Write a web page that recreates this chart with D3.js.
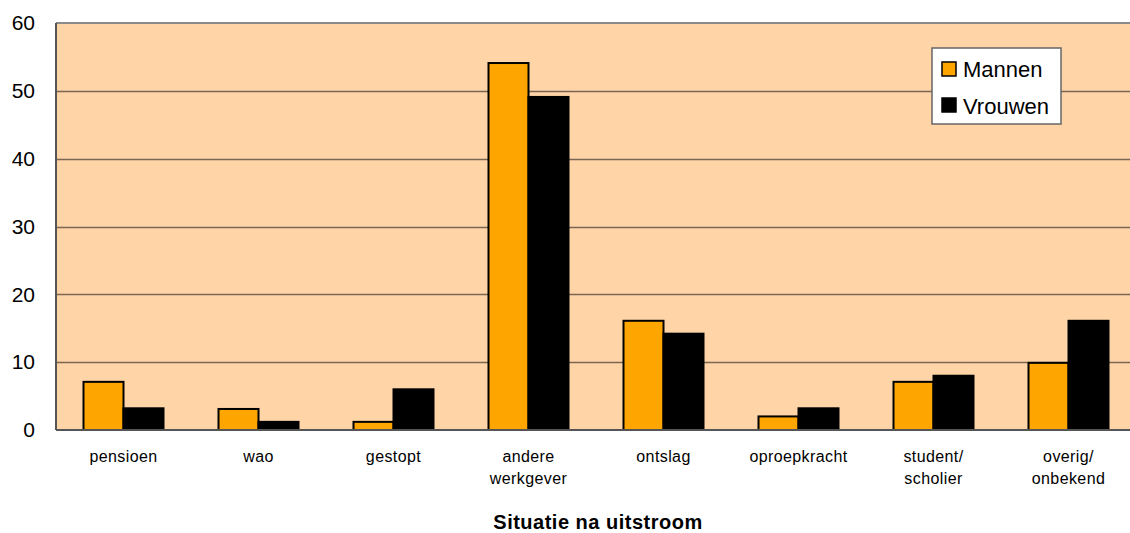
<!DOCTYPE html>
<html><head><meta charset="utf-8">
<script src="https://cdn.jsdelivr.net/npm/d3@7"></script>
<style>body{margin:0;background:#fff}svg{display:block;font-family:"Liberation Sans",Arial,sans-serif}</style>
</head><body>
<svg id="c" width="1130" height="533"></svg>
<script>
const categories = [["pensioen"],["wao"],["gestopt"],["andere","werkgever"],["ontslag"],["oproepkracht"],["student/","scholier"],["overig/","onbekend"]];
const series = ["Mannen","Vrouwen"];
const mannen = [7.1, 3.1, 1.2, 54.1, 16.1, 2.0, 7.1, 9.9];
const vrouwen = [3.2, 1.2, 6.0, 49.1, 14.2, 3.2, 8.0, 16.1];
const yTicks = [0,10,20,30,40,50,60];
const colors = ["#FFA500","#000000"];
const xTitle = "Situatie na uitstroom";

const svg = d3.select("#c");
const L = 56, R = 1136, T = 23, B = 430;
const x = d3.scaleBand().domain(d3.range(categories.length)).range([L, R]).paddingInner(0).paddingOuter(0);
const y = d3.scaleLinear().domain([0,60]).range([B, T]);

svg.append("rect").attr("x",L).attr("y",T).attr("width",R-L).attr("height",B-T).attr("fill","#FFD5A8");
svg.append("line").attr("x1",L).attr("x2",R).attr("y1",T).attr("y2",T).attr("stroke","#8a8a8a").attr("stroke-width",2);

svg.append("g").selectAll("line").data(yTicks.filter(d=>d>0 && d<60)).join("line")
  .attr("x1",L).attr("x2",R).attr("y1",d=>Math.round(y(d))+0.5).attr("y2",d=>Math.round(y(d))+0.5)
  .attr("stroke","#7a6652").attr("stroke-width",1.5);

const bw = 40;
const data = [mannen, vrouwen];
data.forEach((vals, si) => {
  svg.append("g").selectAll("rect").data(vals).join("rect")
    .attr("x", (d,i) => x(i) + x.bandwidth()/2 - bw + si*bw)
    .attr("y", d => y(d))
    .attr("width", bw)
    .attr("height", d => B - y(d))
    .attr("fill", colors[si])
    .attr("stroke", "#000").attr("stroke-width", 2);
});

// axes
svg.append("line").attr("x1",L).attr("x2",L).attr("y1",T).attr("y2",B).attr("stroke","#555").attr("stroke-width",2);
svg.append("line").attr("x1",L).attr("x2",R).attr("y1",B).attr("y2",B).attr("stroke","#555").attr("stroke-width",2);

const yAxis = d3.axisLeft(y).tickValues(yTicks).tickSize(0).tickPadding(21);
const ga = svg.append("g").attr("transform",`translate(${L},0)`).call(yAxis);
ga.select(".domain").remove();
ga.selectAll("text").attr("font-size",21).attr("fill","#000").attr("font-family","Liberation Sans, Arial, sans-serif");

// x labels
const xl = svg.append("g").selectAll("text").data(categories).join("text")
  .attr("text-anchor","middle").attr("font-size",16).attr("letter-spacing",0.4).attr("fill","#000")
  .attr("x",(d,i)=>x(i)+x.bandwidth()/2).attr("y",462);
xl.each(function(d){
  const t = d3.select(this);
  d.forEach((line,k)=> t.append("tspan").attr("x", t.attr("x")).attr("dy", k===0?0:22).text(line));
});

svg.append("text").attr("x",598).attr("y",529).attr("text-anchor","middle")
  .attr("font-size",20).attr("letter-spacing",0.5).attr("font-weight","bold").text(xTitle);

// legend
const lg = svg.append("g");
lg.append("rect").attr("x",932).attr("y",48).attr("width",129).attr("height",76).attr("fill","#fff").attr("stroke","#666").attr("stroke-width",1.5);
series.forEach((s,i)=>{
  lg.append("rect").attr("x",942).attr("y",62+i*36).attr("width",14).attr("height",14)
    .attr("fill",colors[i]).attr("stroke","#000").attr("stroke-width",1.5);
  lg.append("text").attr("x",963).attr("y",77+i*37).attr("font-size",22).text(s);
});
</script>
</body></html>
